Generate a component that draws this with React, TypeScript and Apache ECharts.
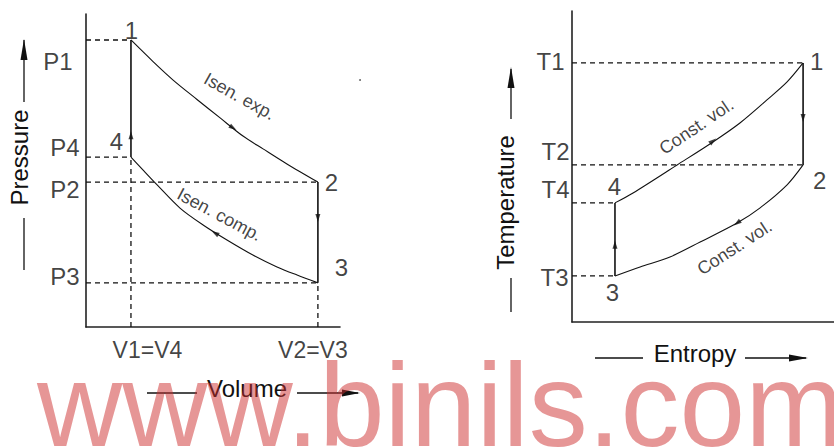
import React, { useEffect, useRef } from "react";
import * as echarts from "echarts";

// ---------- P–V diagram (axis units: 0–100 along each drawn axis) ----------
const V1 = 17.7;
const V2 = 91.3;
const P1 = 91.7;
const P2 = 46.3;
const P3 = 14.1;
const P4 = 54.3;
const pvStateNames = ["1", "2", "3", "4"];
const pvStatePoints = [[V1, P1], [V2, P2], [V2, P3], [V1, P4]];
const pLevelLabels = ["P1", "P4", "P2", "P3"];
const pLevelValues = [P1, P4, P2, P3];
const vLevelLabels = ["V1=V4", "V2=V3"];
const vLevelValues = [V1, V2];
const isenExpansion = [
  [17.7, 91.7], [26.4, 84.8], [34.3, 78.9], [43.7, 72.7], [52.8, 66.8],
  [61.8, 61.0], [69.7, 56.9], [79.1, 52.1], [91.3, 46.3],
];
const isenCompression = [
  [17.7, 54.3], [22.4, 50.2], [28.0, 45.4], [37.0, 38.0], [46.1, 32.6],
  [55.5, 27.8], [65.7, 23.0], [75.2, 19.2], [83.1, 16.6], [91.3, 14.1],
];
const pvArrowPoints = [[57.9, 63.6], [50.8, 30.0], [V1, 61.3], [V2, 34.8]];
const pvCurveNames = ["Isen. exp.", "Isen. comp."];

// ---------- T–s diagram ----------
const S1 = 88.2;
const S4 = 16.4;
const T1 = 83.3;
const T2 = 50.5;
const T3 = 14.8;
const T4 = 38.3;
const tsStateNames = ["1", "2", "3", "4"];
const tsStatePoints = [[S1, T1], [S1, T2], [S4, T3], [S4, T4]];
const tLevelLabels = ["T1", "T2", "T4", "T3"];
const tLevelValues = [T1, T2, T4, T3];
const constVolHeating = [
  [16.4, 38.3], [23.3, 41.5], [40.1, 50.5], [53.8, 57.9], [64.1, 64.0],
  [74.4, 71.4], [82.1, 77.2], [88.2, 83.3],
];
const constVolCooling = [
  [88.2, 50.5], [82.1, 44.1], [71.8, 36.7], [63.0, 31.8], [48.9, 25.7],
  [37.4, 20.9], [26.0, 17.7], [16.4, 14.8],
];
const tsArrowPoints = [[53.8, 58.2], [S1, 65.6], [63.0, 31.8], [S4, 24.8]];
const tsCurveNames = ["Const. vol.", "Const. vol."];

const axisTitles = ["Pressure", "Volume", "Temperature", "Entropy"];
const watermark = "www.binils.com";

// ---------- styles ----------
const INK = "#111";
const FONT = "Liberation Sans, Arial, sans-serif";
const pLabelPos = [[-13, 22], [-6, -9], [-6, 8], [-6, -6]];
const vLabelPos = [[17, 23], [-4.5, 23]];
const pvStatePos = [[1, -9], [14, 1], [24, -15], [-14, -15]];
const tLabelPos = [[-7, -1], [-2, -13], [-2, -13], [-3, 2]];
const tsStatePos = [[14, -1], [17, 16], [-2, 17], [0, -16]];
const pvArrowRot = [-123, 59, 0, 180];
const tsArrowRot = [-53, 180, 125, 0];
const pvCurveLabelPos = [[7, -31], [5, -18]];
const pvCurveLabelRot = [-29, -28];
const tsCurveLabelPos = [[-16, -14], [-2, 25]];
const tsCurveLabelRot = [34, 33];

function seg(gi: number, data: number[][], dashed: boolean, width: number) {
  return {
    type: "line",
    xAxisIndex: gi,
    yAxisIndex: gi,
    data,
    symbol: "none",
    silent: true,
    z: 2,
    lineStyle: { color: INK, width, type: dashed ? [5, 4] : "solid" },
  };
}

function curve(gi: number, data: number[][]) {
  return {
    type: "line",
    xAxisIndex: gi,
    yAxisIndex: gi,
    data,
    symbol: "none",
    smooth: 0.3,
    silent: true,
    z: 3,
    lineStyle: { color: INK, width: 1.1 },
  };
}

function txt(value: number[], text: string, pos: number[], align: string, fontSize: number, rotate = 0) {
  return {
    value,
    label: {
      show: true,
      formatter: text,
      position: pos,
      align,
      verticalAlign: "middle",
      fontSize,
      fontFamily: FONT,
      color: INK,
      rotate,
    },
  };
}

function labelSeries(gi: number, data: any[]) {
  return {
    type: "scatter",
    xAxisIndex: gi,
    yAxisIndex: gi,
    symbolSize: 1,
    itemStyle: { color: "transparent" },
    clip: false,
    silent: true,
    z: 5,
    data,
  };
}

function arrowSeries(gi: number, pts: number[][], rots: number[]) {
  return {
    type: "scatter",
    xAxisIndex: gi,
    yAxisIndex: gi,
    symbol: "triangle",
    symbolSize: [5, 8],
    clip: false,
    silent: true,
    z: 4,
    itemStyle: { color: INK },
    data: pts.map((p, i) => ({ value: p, symbolRotate: rots[i] })),
  };
}

function axisPair(gi: number) {
  return {
    type: "value",
    gridIndex: gi,
    min: 0,
    max: 100,
    axisLine: { show: true, lineStyle: { color: "#222", width: 1.6 } },
    axisTick: { show: false },
    axisLabel: { show: false },
    splitLine: { show: false },
  };
}

export default function App() {
  const ref = useRef<HTMLDivElement>(null);
  useEffect(() => {
    if (!ref.current) return;
    const chart = echarts.init(ref.current, null, { renderer: "svg" });

    const pvLabels = [
      ...pLevelLabels.map((t, i) => txt([0, pLevelValues[i]], t, pLabelPos[i], "right", 24)),
      ...vLevelLabels.map((t, i) => txt([vLevelValues[i], 0], t, vLabelPos[i], "center", 23)),
      ...pvStateNames.map((t, i) => txt(pvStatePoints[i], t, pvStatePos[i], "center", 24)),
      ...pvCurveNames.map((t, i) => txt(pvArrowPoints[i], t, pvCurveLabelPos[i], "center", 18, pvCurveLabelRot[i])),
    ];
    const tsLabels = [
      ...tLevelLabels.map((t, i) => txt([0, tLevelValues[i]], t, tLabelPos[i], "right", 24)),
      ...tsStateNames.map((t, i) => txt(tsStatePoints[i], t, tsStatePos[i], "center", 24)),
      ...tsCurveNames.map((t, i) => txt(tsArrowPoints[i === 0 ? 0 : 2], t, tsCurveLabelPos[i], "center", 18, tsCurveLabelRot[i])),
    ];

    const textStyle = (text: string, size: number) => ({
      text,
      fontSize: size,
      fontFamily: FONT,
      fill: INK,
      align: "center",
      verticalAlign: "middle",
    });
    const ln = (x1: number, y1: number, x2: number, y2: number) => ({
      type: "line",
      shape: { x1, y1, x2, y2 },
      style: { stroke: INK, lineWidth: 1.3 },
      silent: true,
    });
    const head = (pts: number[][]) => ({
      type: "polygon",
      shape: { points: pts },
      style: { fill: INK },
      silent: true,
    });

    chart.setOption({
      animation: false,
      backgroundColor: "#ffffff",
      grid: [
        { left: 86, top: 14, width: 254, height: 313 },
        { left: 572, top: 11, width: 262, height: 311 },
      ],
      xAxis: [axisPair(0), axisPair(1)],
      yAxis: [axisPair(0), axisPair(1)],
      series: [
        // P–V
        seg(0, [[0, P1], [V1, P1]], true, 1.3),
        seg(0, [[0, P4], [V1, P4]], true, 1.3),
        seg(0, [[0, P2], [V2, P2]], true, 1.3),
        seg(0, [[0, P3], [V2, P3]], true, 1.3),
        seg(0, [[V1, 0], [V1, P4]], true, 1.3),
        seg(0, [[V2, 0], [V2, P3]], true, 1.3),
        seg(0, [[V1, P4], [V1, P1]], false, 1.6),
        seg(0, [[V2, P2], [V2, P3]], false, 1.6),
        curve(0, isenExpansion),
        curve(0, isenCompression),
        arrowSeries(0, pvArrowPoints, pvArrowRot),
        labelSeries(0, pvLabels),
        // T–s
        seg(1, [[0, T1], [S1, T1]], true, 1.3),
        seg(1, [[0, T2], [S1, T2]], true, 1.3),
        seg(1, [[0, T4], [S4, T4]], true, 1.3),
        seg(1, [[0, T3], [S4, T3]], true, 1.3),
        seg(1, [[S1, T1], [S1, T2]], false, 1.6),
        seg(1, [[S4, T3], [S4, T4]], false, 1.6),
        curve(1, constVolHeating),
        curve(1, constVolCooling),
        arrowSeries(1, tsArrowPoints, tsArrowRot),
        labelSeries(1, tsLabels),
      ],
      graphic: [
        // Pressure
        ln(24, 40, 24, 102),
        head([[24, 39], [27.5, 60], [20.5, 60]]),
        ln(24, 218, 24, 270),
        { type: "text", x: 19, y: 157.5, rotation: Math.PI / 2, style: textStyle(axisTitles[0], 24), silent: true },
        // Volume
        ln(147, 393, 197, 393),
        ln(297, 393, 358, 393),
        head([[360, 393], [342, 389.5], [342, 396.5]]),
        { type: "text", x: 247, y: 388, style: textStyle(axisTitles[1], 24), silent: true },
        // Temperature
        ln(511, 69, 511, 119),
        head([[511, 67], [514.5, 88], [507.5, 88]]),
        ln(511, 278, 511, 312),
        { type: "text", x: 505.5, y: 202.5, rotation: Math.PI / 2, style: textStyle(axisTitles[2], 24), silent: true },
        // Entropy
        ln(595, 358, 643, 358),
        ln(745, 358, 806, 358),
        head([[808, 358], [789, 354.5], [789, 361.5]]),
        { type: "text", x: 695, y: 353, style: textStyle(axisTitles[3], 24), silent: true },
        // stray dot
        { type: "circle", shape: { cx: 360, cy: 80, r: 0.9 }, style: { fill: "#555" }, silent: true },
        // watermark
        {
          type: "text",
          x: 37,
          y: 405,
          z: 100,
          silent: true,
          style: {
            text: watermark,
            fontSize: 118,
            fontFamily: FONT,
            fill: "rgba(205,45,45,0.5)",
            align: "left",
            verticalAlign: "middle",
          },
        },
      ],
    });
    return () => chart.dispose();
  }, []);
  return (
    <div
      ref={ref}
      style={{ position: "fixed", left: 0, top: 0, width: 834, height: 448 }}
    />
  );
}
